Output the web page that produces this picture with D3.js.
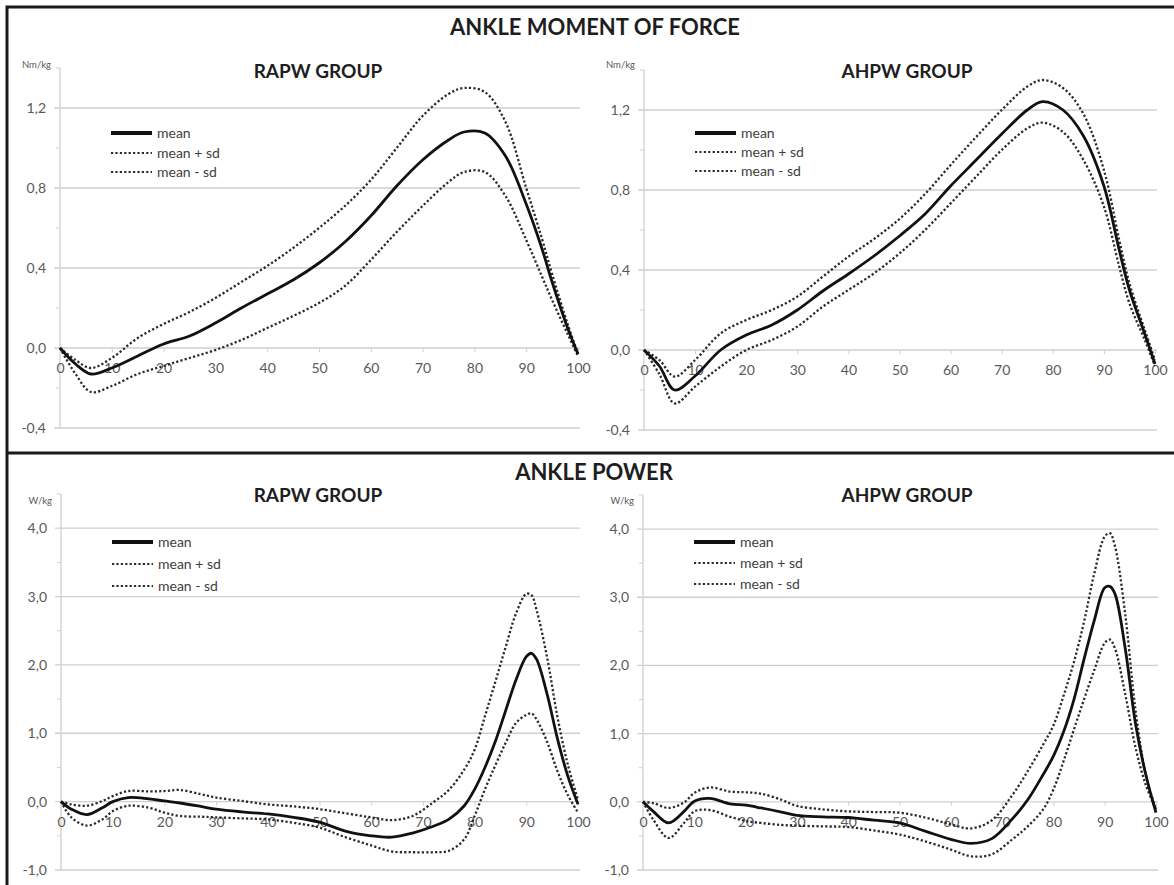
<!DOCTYPE html>
<html>
<head>
<meta charset="utf-8">
<script src="https://cdn.jsdelivr.net/npm/d3@7"></script>
<style>
  body { margin: 0; background: #fff; }
  svg text { font-family: Lato, "Open Sans", sans-serif; }
</style>
</head>
<body>
<div id="chart"></div>
<script>
// % of stance phase (x samples)
const momentX = [0, 3, 6, 10, 15, 20, 25, 30, 35, 40, 45, 50, 55, 60, 65, 70, 75, 78, 82, 86, 90, 93, 95, 98, 100];
const powerX = [0, 2, 5, 8, 10, 13, 17, 20, 23, 27, 30, 35, 40, 45, 50, 55, 60, 64, 68, 72, 75, 78, 80, 82, 84, 86, 88, 90, 91, 92, 94, 96, 98, 100];

// ankle moment of force (Nm/kg)
const rapwMomentMean = [0, -0.08, -0.13, -0.1, -0.04, 0.02, 0.06, 0.125, 0.2, 0.27, 0.34, 0.425, 0.53, 0.66, 0.81, 0.94, 1.04, 1.08, 1.075, 0.96, 0.72, 0.5, 0.33, 0.1, -0.03];
const rapwMomentUpper = [0, -0.06, -0.1, -0.05, 0.05, 0.12, 0.18, 0.25, 0.33, 0.41, 0.5, 0.6, 0.71, 0.84, 1.0, 1.16, 1.27, 1.3, 1.28, 1.13, 0.8, 0.55, 0.37, 0.12, -0.03];
const rapwMomentLower = [0, -0.13, -0.22, -0.19, -0.13, -0.09, -0.05, -0.01, 0.04, 0.1, 0.16, 0.225, 0.31, 0.44, 0.58, 0.71, 0.83, 0.88, 0.88, 0.76, 0.54, 0.36, 0.24, 0.07, -0.04];

const ahpwMomentMean = [0, -0.08, -0.2, -0.13, 0.0, 0.075, 0.125, 0.2, 0.295, 0.38, 0.47, 0.57, 0.68, 0.82, 0.95, 1.08, 1.2, 1.242, 1.2, 1.07, 0.82, 0.5, 0.3, 0.08, -0.07];
const ahpwMomentUpper = [0, -0.05, -0.133, -0.05, 0.083, 0.15, 0.2, 0.267, 0.367, 0.467, 0.555, 0.655, 0.78, 0.925, 1.065, 1.2, 1.317, 1.35, 1.31, 1.18, 0.9, 0.55, 0.333, 0.1, -0.05];
const ahpwMomentLower = [0, -0.12, -0.267, -0.183, -0.083, 0.0, 0.05, 0.117, 0.217, 0.3, 0.383, 0.483, 0.6, 0.733, 0.867, 1.0, 1.108, 1.137, 1.09, 0.95, 0.717, 0.417, 0.233, 0.05, -0.08];

// ankle power (W/kg)
const rapwPowerMean = [0, -0.11, -0.19, -0.09, 0.0, 0.06, 0.04, 0.01, -0.02, -0.07, -0.11, -0.15, -0.18, -0.23, -0.3, -0.43, -0.5, -0.52, -0.46, -0.36, -0.26, -0.06, 0.18, 0.5, 0.88, 1.33, 1.78, 2.12, 2.17, 2.08, 1.58, 0.93, 0.38, -0.04];
const rapwPowerUpper = [0, -0.04, -0.06, 0.01, 0.08, 0.155, 0.15, 0.155, 0.17, 0.11, 0.06, 0.01, -0.04, -0.07, -0.11, -0.17, -0.23, -0.27, -0.21, -0.01, 0.17, 0.47, 0.76, 1.25, 1.75, 2.26, 2.75, 3.04, 3.02, 2.8, 2.12, 1.25, 0.55, 0.03];
const rapwPowerLower = [0, -0.23, -0.35, -0.26, -0.14, -0.06, -0.09, -0.16, -0.21, -0.22, -0.23, -0.245, -0.26, -0.31, -0.38, -0.52, -0.64, -0.73, -0.74, -0.74, -0.72, -0.55, -0.21, 0.18, 0.53, 0.86, 1.15, 1.27, 1.29, 1.2, 0.88, 0.45, 0.1, -0.16];

const ahpwPowerMean = [0, -0.14, -0.31, -0.14, 0.01, 0.05, -0.03, -0.05, -0.09, -0.15, -0.2, -0.22, -0.23, -0.27, -0.31, -0.43, -0.55, -0.61, -0.54, -0.25, 0.03, 0.4, 0.67, 1.03, 1.5, 2.1, 2.67, 3.14, 3.16, 3.05, 2.25, 1.15, 0.4, -0.16];
const ahpwPowerUpper = [0, -0.02, -0.09, -0.01, 0.13, 0.21, 0.15, 0.14, 0.12, 0.03, -0.06, -0.11, -0.14, -0.15, -0.16, -0.23, -0.33, -0.39, -0.27, 0.1, 0.45, 0.84, 1.12, 1.56, 2.05, 2.65, 3.36, 3.89, 3.94, 3.75, 2.75, 1.35, 0.4, -0.11];
const ahpwPowerLower = [0, -0.26, -0.53, -0.31, -0.14, -0.12, -0.22, -0.28, -0.31, -0.34, -0.35, -0.36, -0.37, -0.42, -0.48, -0.58, -0.7, -0.8, -0.77, -0.55, -0.36, -0.11, 0.18, 0.6, 1.06, 1.51, 1.94, 2.33, 2.38, 2.25, 1.58, 0.8, 0.25, -0.11];

// axis ticks and labels
const xTicks = [0, 10, 20, 30, 40, 50, 60, 70, 80, 90, 100];
const momentTicks = [-0.4, 0, 0.4, 0.8, 1.2];
const momentMinor = [-0.2, 0.2, 0.6, 1.0, 1.4];
const powerTicks = [-1, 0, 1, 2, 3, 4];
const powerMinor = [-0.5, 0.5, 1.5, 2.5, 3.5, 4.5];
const legendLabels = ["mean", "mean + sd", "mean - sd"];
const sectionTitles = ["ANKLE MOMENT OF FORCE", "ANKLE POWER"];
const groupNames = ["RAPW GROUP", "AHPW GROUP"];

const W = 1174, H = 885;
const fmt = d3.formatLocale({ decimal: ",", thousands: ".", grouping: [3], currency: ["", ""], minus: "-" }).format(".1f");

const svg = d3.select("#chart").append("svg")
  .attr("width", W)
  .attr("height", H);

// panels: layout in pixels
const panels = [
  { title: groupNames[0], unit: "Nm/kg", xs: momentX, series: [rapwMomentMean, rapwMomentUpper, rapwMomentLower],
    domain: [-0.4, 1.4], ticks: momentTicks, minor: momentMinor,
    x0: 60, x1: 578, yTop: 68, yBot: 428, titleX: 318, titleY: 71, unitY: 65, legendY: [133, 153, 172] },
  { title: groupNames[1], unit: "Nm/kg", xs: momentX, series: [ahpwMomentMean, ahpwMomentUpper, ahpwMomentLower],
    domain: [-0.4, 1.4], ticks: momentTicks, minor: momentMinor,
    x0: 644, x1: 1155, yTop: 70, yBot: 430, titleX: 907, titleY: 71, unitY: 65, legendY: [133, 152, 171] },
  { title: groupNames[0], unit: "W/kg", xs: powerX, series: [rapwPowerMean, rapwPowerUpper, rapwPowerLower],
    domain: [-1, 4.5], ticks: powerTicks, minor: powerMinor,
    x0: 61, x1: 578, yTop: 494, yBot: 870, titleX: 318, titleY: 495, unitY: 501, legendY: [542, 564, 586] },
  { title: groupNames[1], unit: "W/kg", xs: powerX, series: [ahpwPowerMean, ahpwPowerUpper, ahpwPowerLower],
    domain: [-1, 4.5], ticks: powerTicks, minor: powerMinor,
    x0: 643, x1: 1156, yTop: 495, yBot: 870, titleX: 907, titleY: 495, unitY: 501, legendY: [542, 563, 584] }
];

const styles = [
  { stroke: "#111", width: 2.8, dash: null, legendWidth: 3.8 },
  { stroke: "#2a2a2a", width: 2.3, dash: "2.2,2.2", legendWidth: 2.2 },
  { stroke: "#2a2a2a", width: 2.3, dash: "2.2,2.2", legendWidth: 2.2 }
];

// frame
svg.append("rect")
  .attr("x", 7).attr("y", 7)
  .attr("width", W + 20).attr("height", H + 20)
  .attr("fill", "none")
  .attr("stroke", "#1a1a1a")
  .attr("stroke-width", 3);

svg.append("line")
  .attr("x1", 7).attr("x2", W)
  .attr("y1", 453).attr("y2", 453)
  .attr("stroke", "#1a1a1a")
  .attr("stroke-width", 3);

svg.selectAll(".section-title")
  .data(sectionTitles)
  .enter()
  .append("text")
  .attr("class", "section-title")
  .attr("x", (d, i) => i === 0 ? 595 : 594)
  .attr("y", (d, i) => i === 0 ? 27 : 472)
  .attr("dy", "0.36em")
  .attr("text-anchor", "middle")
  .style("font-size", "22px")
  .style("font-weight", "bold")
  .style("fill", "#1e1e1e")
  .text(d => d);

panels.forEach(p => {
  const x = d3.scaleLinear().domain([0, 100]).range([p.x0, p.x1]);
  const y = d3.scaleLinear().domain(p.domain).range([p.yBot, p.yTop]);
  const g = svg.append("g");

  // gridlines
  g.selectAll(".grid")
    .data(p.ticks)
    .enter()
    .append("line")
    .attr("x1", p.x0 - 6)
    .attr("x2", p.x1 + 2)
    .attr("y1", d => y(d))
    .attr("y2", d => y(d))
    .attr("stroke", "#cfcfcf")
    .attr("stroke-width", 1.3);

  // minor ticks
  g.selectAll(".minor")
    .data(p.minor)
    .enter()
    .append("line")
    .attr("x1", p.x0 - 4)
    .attr("x2", p.x0)
    .attr("y1", d => y(d))
    .attr("y2", d => y(d))
    .attr("stroke", "#cfcfcf")
    .attr("stroke-width", 1);

  // y axis line
  g.append("line")
    .attr("x1", p.x0).attr("x2", p.x0)
    .attr("y1", p.yTop).attr("y2", p.yBot)
    .attr("stroke", "#cfcfcf")
    .attr("stroke-width", 1.3);

  g.append("g")
    .attr("transform", `translate(${p.x0},0)`)
    .call(d3.axisLeft(y).tickValues(p.ticks).tickSize(0).tickPadding(14).tickFormat(fmt))
    .call(a => a.select(".domain").remove())
    .selectAll("text")
    .style("font-family", "Lato, sans-serif")
    .style("font-size", "14px")
    .style("fill", "#595959");

  // x axis through zero
  g.append("g")
    .attr("transform", `translate(0,${y(0)})`)
    .call(d3.axisBottom(x).tickValues(xTicks).tickSizeInner(4).tickSizeOuter(0).tickPadding(11))
    .call(a => a.select(".domain").remove())
    .call(a => a.selectAll(".tick line").attr("stroke", "#cfcfcf"))
    .selectAll("text")
    .style("font-family", "Lato, sans-serif")
    .style("font-size", "14px")
    .style("fill", "#595959");

  // unit label
  g.append("text")
    .attr("x", p.x0 - 9)
    .attr("y", p.unitY)
    .attr("dy", "0.35em")
    .attr("text-anchor", "end")
    .style("font-size", "9.5px")
    .style("fill", "#595959")
    .text(p.unit);

  // group title
  g.append("text")
    .attr("x", p.titleX)
    .attr("y", p.titleY)
    .attr("dy", "0.36em")
    .attr("text-anchor", "middle")
    .style("font-size", "19px")
    .style("font-weight", "bold")
    .style("fill", "#1e1e1e")
    .text(p.title);

  // curves
  const line = d3.line()
    .x(d => x(d[0]))
    .y(d => y(d[1]))
    .curve(d3.curveCatmullRom.alpha(0.5));

  [1, 2, 0].forEach(i => {
    g.append("path")
      .datum(d3.zip(p.xs, p.series[i]))
      .attr("d", line)
      .attr("fill", "none")
      .attr("stroke", styles[i].stroke)
      .attr("stroke-width", styles[i].width)
      .attr("stroke-dasharray", styles[i].dash);
  });

  // legend
  const lx = p.x0 + 51;
  legendLabels.forEach((label, i) => {
    g.append("line")
      .attr("x1", lx).attr("x2", lx + 41)
      .attr("y1", p.legendY[i]).attr("y2", p.legendY[i])
      .attr("stroke", styles[i].stroke)
      .attr("stroke-width", styles[i].legendWidth)
      .attr("stroke-dasharray", styles[i].dash);

    g.append("text")
      .attr("x", lx + 46)
      .attr("y", p.legendY[i])
      .attr("dy", "0.35em")
      .style("font-size", "14px")
      .style("fill", "#404040")
      .text(label);
  });
});
</script>
</body>
</html>
